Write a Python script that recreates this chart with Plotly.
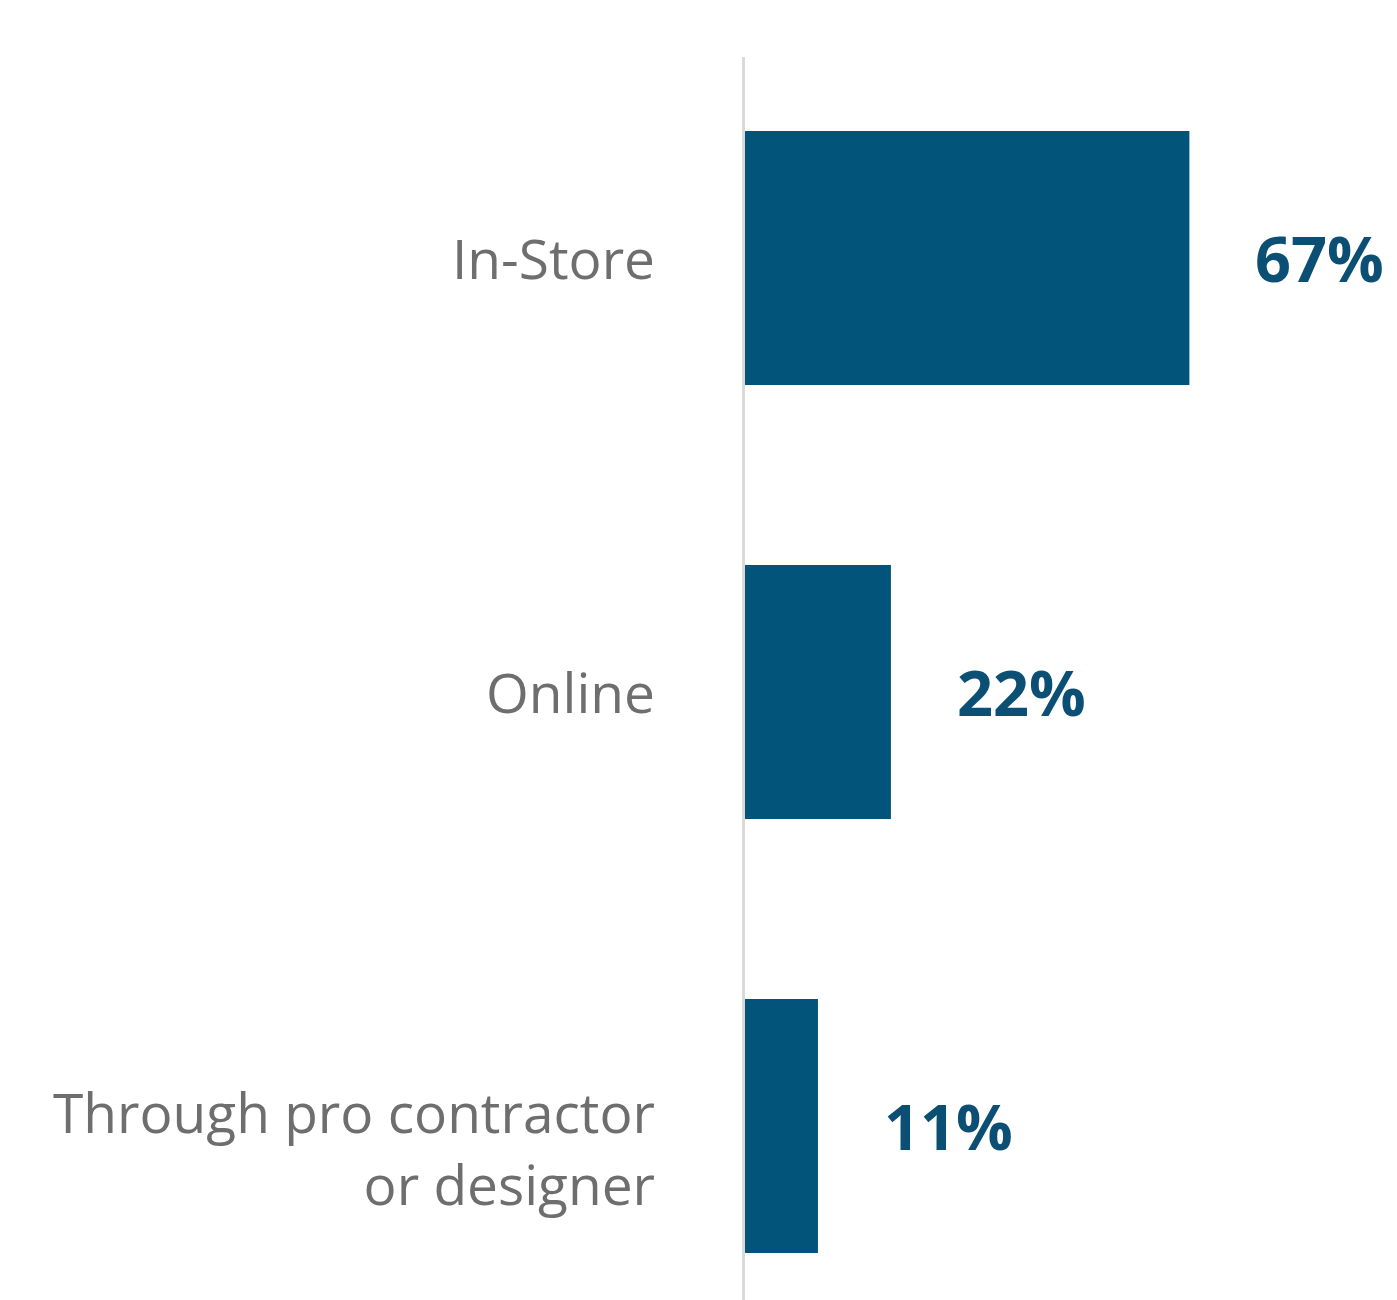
import plotly.graph_objects as go

# Purchase channel shares
channels = ["In-Store", "Online", "Through pro contractor<br>or designer"]
shares = [67, 22, 11]
share_labels = ["67%", "22%", "11%"]

BAR_COLOR = "#03547a"
VALUE_COLOR = "#0c4f74"
CAT_COLOR = "#6e6e6e"
FONT = "Open Sans, Noto Sans, sans-serif"

fig = go.Figure(
    go.Bar(
        x=shares,
        y=channels,
        orientation="h",
        marker=dict(color=BAR_COLOR, line=dict(width=0)),
        width=0.585,
        hoverinfo="skip",
    )
)

# value labels to the right of each bar
for ch, v, lab in zip(channels, shares, share_labels):
    fig.add_annotation(
        x=v, y=ch, text=lab, showarrow=False,
        xanchor="left", yanchor="middle", xshift=64,
        font=dict(family=FONT, size=63, color=VALUE_COLOR, weight="bold"),
    )

# category labels, right-aligned left of the axis line
for ch in channels:
    multi = "<br>" in ch
    fig.add_annotation(
        x=0, y=ch, xref="x", text=ch, showarrow=False,
        xanchor="right", yanchor="middle", align="right",
        xshift=-88, yshift=-22 if multi else 0,
        font=dict(family=FONT, size=55, color=CAT_COLOR),
    )

fig.update_layout(
    width=1397, height=1300,
    margin=dict(l=745, r=0, t=57, b=0),
    paper_bgcolor="white", plot_bgcolor="white",
    showlegend=False,
    xaxis=dict(range=[0, 98.3], visible=False, fixedrange=True),
    yaxis=dict(
        range=[2.401, -0.463], showticklabels=False, showgrid=False,
        zeroline=False, showline=True, linecolor="#dadada", linewidth=3,
        ticks="", fixedrange=True,
    ),
)

fig.write_html("out.html")
